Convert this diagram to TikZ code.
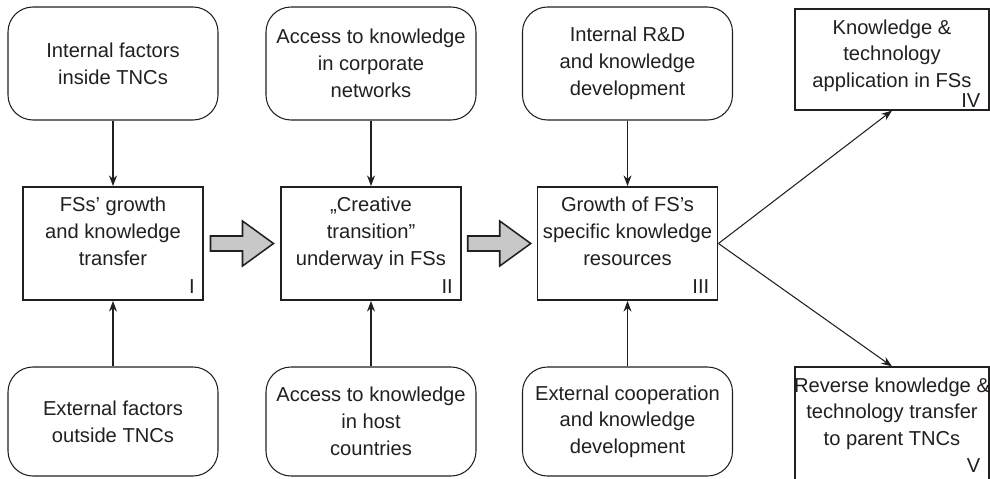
\documentclass[tikz,border=0pt]{standalone}
\usepackage{fontspec}
\setmainfont{Liberation Sans}
\usepackage{tikz}
\usetikzlibrary{
  arrows.meta,
  positioning,
  calc,
}
\definecolor{ink}{HTML}{231F20}
\definecolor{shade}{HTML}{C8C8C8}
\newcommand{\bodyfont}{\fontsize{17.2}{22.8}\selectfont}
\tikzset{
  >={Stealth[length=3.2mm,width=2.4mm]},
  every node/.append style={text=ink},
  factor/.style={
    draw=ink,
    line width=0.9pt,
    rounded corners=0.75cm,
    minimum width=6.3cm,
    minimum height=3.39cm,
    align=center,
    font=\bodyfont,
  },
  stage/.style={
    draw=ink,
    line width=1.6pt,
    minimum width=5.4cm,
    minimum height=3.39cm,
  },
  outcome/.style={
    draw=ink,
    line width=1pt,
    minimum width=5.82cm,
    minimum height=#1,
  },
  boxtext/.style={anchor=north, align=center, font=\bodyfont, inner sep=0pt},
  numeral/.style={anchor=base east, font=\bodyfont, inner sep=0pt},
  flow/.style={draw=ink, line width=0.9pt, ->},
  pics/fatarrow/.style={
    code={
      \draw[draw=ink, fill=shade, line width=1.3pt]
        (-31.5,-7.5) -- (0.5,-7.5) -- (0.5,-22.5) -- (31.5,0)
        -- (0.5,22.5) -- (0.5,7.5) -- (-31.5,7.5) -- cycle;
    }
  },
}

\begin{document}
\begin{tikzpicture}[x=0.03cm,y=-0.03cm]
  \useasboundingbox (0,0) rectangle (990,478);
  \clip (0,0) rectangle (990,478);
  \fill[white] (0,0) rectangle (990,478);

  % factors above
  \node[factor] (f1) at (113,63.5) {Internal factors\\inside TNCs};
  \node[factor] (f2) at (371,63.5) {Access to knowledge\\in corporate\\networks};
  \node[factor] (f3) at (627.5,63.5) {Internal R\&D\\and knowledge\\development};

  % factors below
  \node[factor, minimum height=3.27cm] (b1) at (113,421.5) {External factors\\outside TNCs};
  \node[factor, minimum height=3.27cm] (b2) at (371,421.5) {Access to knowledge\\in host\\countries};
  \node[factor, minimum height=3.27cm] (b3) at (627.5,421.5) {External cooperation\\and knowledge\\development};

  % stages
  \node[stage] (s1) at (113,243.5) {};
  \node[stage] (s2) at (371,243.5) {};
  \node[stage] (s3) at (627.5,243.5) {};
  \node[boxtext] (s1t) at ($(s1.north)+(0,11)$) {FSs' growth\\and knowledge\\transfer};
  \node[boxtext] (s2t) at ($(s2.north)+(0,11)$) {„Creative\\transition”\\underway in FSs};
  \node[boxtext] (s3t) at ($(s3.north)+(0,11)$) {Growth of FS's\\specific knowledge\\resources};
  \node[numeral] (s1n) at ($(s1.south east)+(-9,-7)$) {I};
  \node[numeral] (s2n) at ($(s2.south east)+(-9,-7)$) {II};
  \node[numeral] (s3n) at ($(s3.south east)+(-9,-7)$) {III};

  % outcomes
  \node[outcome=3.03cm] (o4) at (892,59.5) {};
  \node[outcome=3.6cm] (o5) at (892,427) {};
  \node[boxtext] (o4t) at ($(o4.north)+(0,11)$) {Knowledge \&\\technology\\application in FSs};
  \node[boxtext] (o5t) at ($(o5.north)+(0,11)$) {Reverse knowledge \&\\technology transfer\\to parent TNCs};
  \node[numeral] (o4n) at ($(o4.south east)+(-9,-3)$) {IV};
  \node[numeral] (o5n) at ($(o5.south east)+(-9,-15)$) {V};

  % arrows
  \foreach \i in {1,2,3} {
    \draw[flow] (f\i.south) -- (s\i.north);
    \draw[flow] (b\i.north) -- (s\i.south);
  }
  \pic (a1) at ($(s1.east)!0.5!(s2.west)$) {fatarrow};
  \pic (a2) at ($(s2.east)!0.5!(s3.west)$) {fatarrow};
  \draw[flow] (s3.east) -- (o4.south);
  \draw[flow] (s3.east) -- (o5.north);
\end{tikzpicture}
\end{document}
